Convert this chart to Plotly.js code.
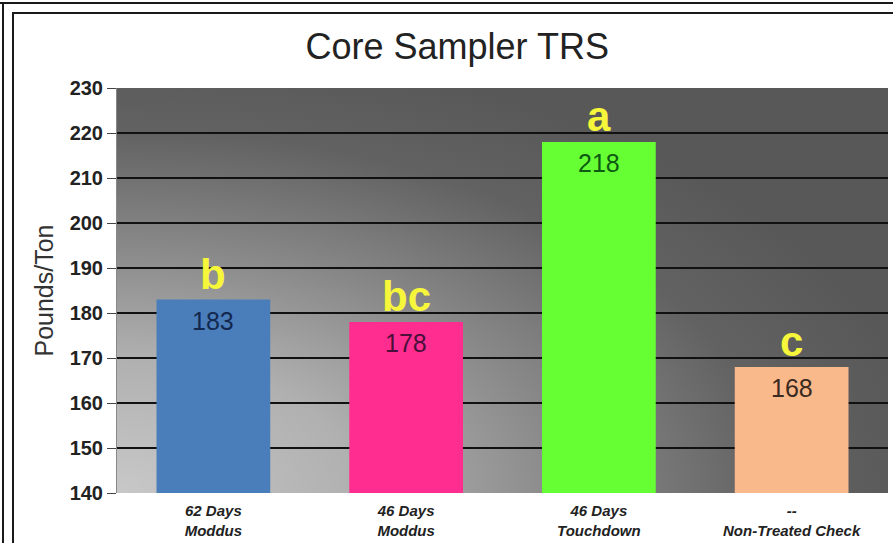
<!DOCTYPE html>
<html>
<head>
<meta charset="utf-8">
<script src="https://cdn.plot.ly/plotly-3.0.1.min.js"></script>
<style>
  html, body { margin:0; padding:0; background:#fff; }
  #wrap { position:relative; width:893px; height:543px; overflow:hidden; }
  #chart { position:absolute; left:0; top:0; width:893px; height:543px; }
  .ln { position:absolute; background:#1a1a1a; }
</style>
</head>
<body>
<div id="wrap">
  <div id="chart"></div>
  <div class="ln" style="left:0;top:2px;width:893px;height:2px;"></div>
  <div class="ln" style="left:12px;top:12px;width:881px;height:2px;"></div>
  <div class="ln" style="left:2px;top:2px;width:2px;height:541px;"></div>
  <div class="ln" style="left:12px;top:12px;width:2px;height:531px;"></div>
</div>
<script>
const categories = ["62 Days<br>Moddus", "46 Days<br>Moddus", "46 Days<br>Touchdown", "--<br>Non-Treated Check"];
const values = [183, 178, 218, 168];
const letters = ["b", "bc", "a", "c"];
const barColors = ["#4a7ebb", "#ff2d8f", "#66ff33", "#fab98a"];
const labelColors = ["#13284f", "#4a0f3a", "#0d5a12", "#3a2a20"];
const yTicks = [140, 150, 160, 170, 180, 190, 200, 210, 220, 230];

// gradient background image for plot area
function makeBg() {
  const w = 771, h = 405;
  const c = document.createElement("canvas");
  c.width = w; c.height = h;
  const g = c.getContext("2d");
  g.fillStyle = "#585858";
  g.fillRect(0, 0, w, h);
  g.save();
  g.translate(0, h);
  g.scale(1, 0.55);
  const rg = g.createRadialGradient(0, 0, 0, 0, 0, 820);
  rg.addColorStop(0, "#c8c8c8");
  rg.addColorStop(0.3, "#b0b0b0");
  rg.addColorStop(0.55, "#888888");
  rg.addColorStop(0.8, "#626262");
  rg.addColorStop(1, "#585858");
  g.fillStyle = rg;
  g.fillRect(0, -h / 0.55, w, h / 0.55);
  g.restore();
  return c.toDataURL("image/png");
}

const trace = {
  type: "bar",
  x: categories,
  y: values,
  marker: { color: barColors, line: { width: 0 } },
  hoverinfo: "skip"
};

const letterAnns = categories.map((c, i) => ({
  x: c, y: values[i], xref: "x", yref: "y",
  text: letters[i], showarrow: false,
  yanchor: "bottom", yshift: 0,
  font: { family: "Liberation Sans, Arial, sans-serif", size: 42, color: "#f6f63a", weight: "bold" }
}));
const valueAnns = categories.map((c, i) => ({
  x: c, y: values[i], xref: "x", yref: "y",
  text: String(values[i]), showarrow: false,
  yanchor: "top", yshift: -5,
  font: { family: "Liberation Sans, Arial, sans-serif", size: 25, color: labelColors[i] }
}));

const layout = {
  width: 893, height: 543,
  margin: { l: 117, r: 5, t: 88, b: 50 },
  paper_bgcolor: "rgba(0,0,0,0)",
  plot_bgcolor: "#6a6a6a",
  showlegend: false,
  bargap: 0.41,
  title: {
    text: "Core Sampler TRS",
    x: 0.512, xanchor: "center", y: 0.915, yanchor: "middle",
    font: { family: "Liberation Sans, Arial, sans-serif", size: 36, color: "#222" }
  },
  xaxis: {
    type: "category",
    tickfont: { family: "Liberation Sans, Arial, sans-serif", size: 15, color: "#222", weight: "bold", style: "italic" },
    showgrid: false, zeroline: false,
    showline: false, ticks: "", ticklen: 0,
    ticklabelstandoff: 7
  },
  yaxis: {
    range: [140, 230],
    tickvals: yTicks,
    ticktext: yTicks.map(String),
    tickfont: { family: "Liberation Sans Narrow, Liberation Sans, Arial, sans-serif", size: 20, color: "#222", weight: "bold" },
    ticks: "outside", ticklen: 9, tickcolor: "#444", tickwidth: 1,
    showgrid: true, gridcolor: "#111", gridwidth: 2,
    zeroline: false,
    showline: true, linecolor: "#888", linewidth: 1,
    title: { text: "Pounds/Ton", standoff: 8, font: { family: "Liberation Sans, Arial, sans-serif", size: 25, color: "#333" } }
  },
  images: [{
    source: makeBg(), xref: "paper", yref: "paper",
    x: 0, y: 1, sizex: 1, sizey: 1, xanchor: "left", yanchor: "top",
    sizing: "stretch", layer: "below"
  }],
  annotations: letterAnns.concat(valueAnns)
};

Plotly.newPlot("chart", [trace], layout, { staticPlot: true, displayModeBar: false });
</script>
</body>
</html>
